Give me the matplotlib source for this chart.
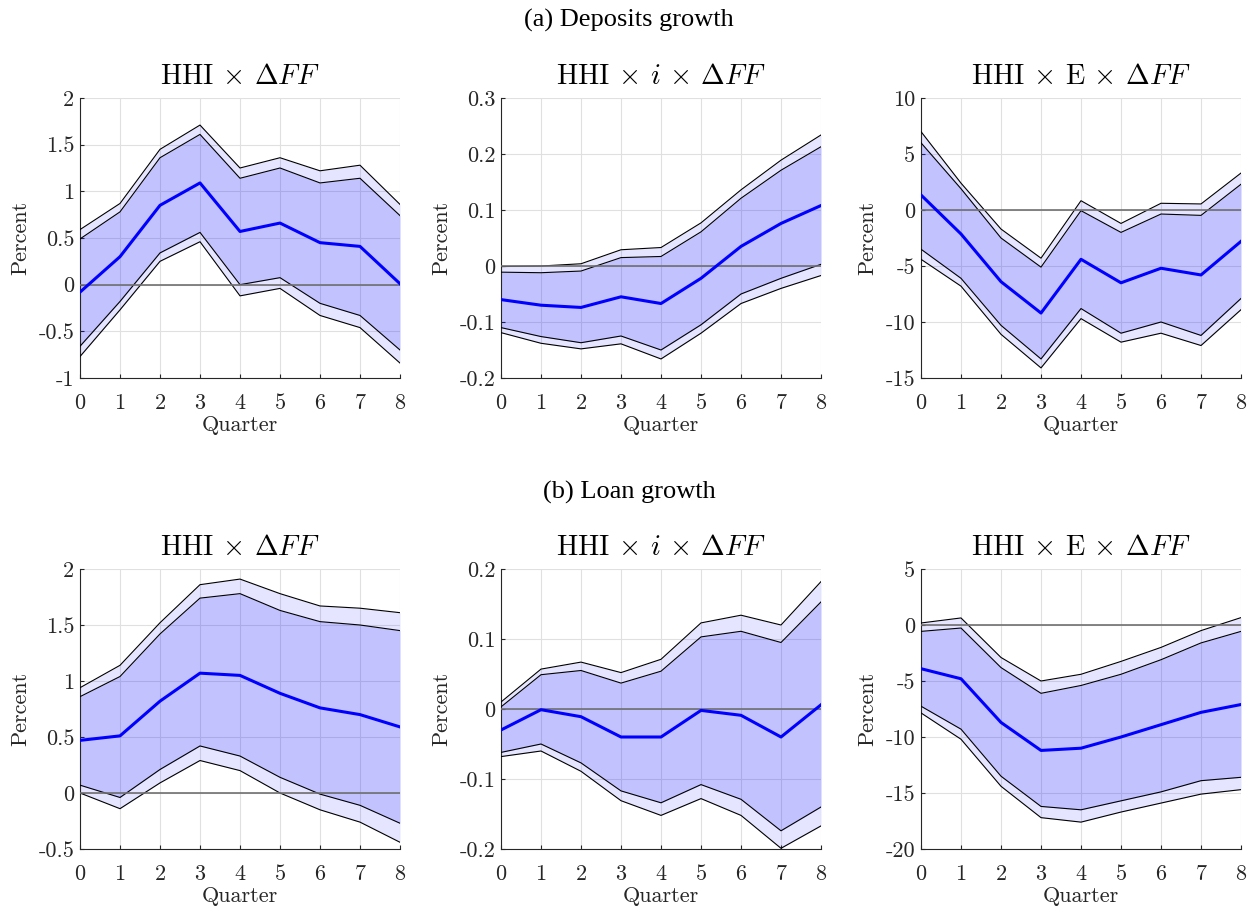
import matplotlib
matplotlib.use("Agg")
import matplotlib.pyplot as plt
import numpy as np

plt.rcParams['font.family'] = ['cmr10', 'DejaVu Serif']
plt.rcParams['mathtext.fontset'] = 'cm'
plt.rcParams['axes.unicode_minus'] = False

quarters = list(range(9))

# Deposits growth
dep1_mean = [-0.08, 0.30, 0.85, 1.09, 0.57, 0.66, 0.45, 0.41, 0.01]
dep1_in_hi = [0.49, 0.78, 1.36, 1.61, 1.14, 1.25, 1.09, 1.14, 0.74]
dep1_out_hi = [0.59, 0.87, 1.45, 1.71, 1.25, 1.36, 1.22, 1.28, 0.86]
dep1_in_lo = [-0.66, -0.18, 0.34, 0.56, 0.00, 0.075, -0.20, -0.33, -0.70]
dep1_out_lo = [-0.77, -0.27, 0.25, 0.46, -0.12, -0.04, -0.33, -0.46, -0.84]

dep2_mean = [-0.060, -0.070, -0.074, -0.055, -0.067, -0.022, 0.035, 0.076, 0.108]
dep2_in_hi = [-0.011, -0.012, -0.009, 0.015, 0.017, 0.061, 0.121, 0.171, 0.213]
dep2_out_hi = [-0.001, 0.000, 0.004, 0.029, 0.033, 0.077, 0.136, 0.189, 0.234]
dep2_in_lo = [-0.110, -0.126, -0.137, -0.125, -0.150, -0.105, -0.050, -0.022, 0.003]
dep2_out_lo = [-0.119, -0.138, -0.148, -0.139, -0.166, -0.120, -0.067, -0.040, -0.017]

dep3_mean = [1.34, -2.14, -6.4, -9.2, -4.4, -6.5, -5.2, -5.8, -2.8]
dep3_in_hi = [6.0, 1.9, -2.5, -5.1, -0.06, -2.0, -0.36, -0.48, 2.3]
dep3_out_hi = [7.0, 2.4, -1.7, -4.3, 0.83, -1.2, 0.6, 0.54, 3.3]
dep3_in_lo = [-3.5, -6.1, -10.3, -13.3, -8.8, -11.0, -10.0, -11.2, -7.9]
dep3_out_lo = [-4.4, -6.8, -11.1, -14.1, -9.7, -11.8, -11.0, -12.1, -8.9]

# Loan growth
loan1_mean = [0.47, 0.51, 0.82, 1.07, 1.05, 0.89, 0.76, 0.70, 0.59]
loan1_in_hi = [0.86, 1.04, 1.42, 1.74, 1.78, 1.63, 1.53, 1.50, 1.45]
loan1_out_hi = [0.94, 1.14, 1.52, 1.86, 1.91, 1.78, 1.67, 1.65, 1.61]
loan1_in_lo = [0.07, -0.04, 0.21, 0.42, 0.33, 0.14, -0.01, -0.11, -0.27]
loan1_out_lo = [0.00, -0.14, 0.09, 0.29, 0.20, 0.00, -0.15, -0.26, -0.44]

loan2_mean = [-0.030, -0.001, -0.011, -0.040, -0.040, -0.002, -0.009, -0.040, 0.006]
loan2_in_hi = [0.003, 0.049, 0.055, 0.037, 0.054, 0.103, 0.111, 0.095, 0.153]
loan2_out_hi = [0.010, 0.057, 0.067, 0.052, 0.071, 0.123, 0.134, 0.120, 0.182]
loan2_in_lo = [-0.062, -0.050, -0.077, -0.117, -0.134, -0.108, -0.129, -0.174, -0.140]
loan2_out_lo = [-0.068, -0.060, -0.089, -0.131, -0.152, -0.128, -0.152, -0.199, -0.167]

loan3_mean = [-3.9, -4.8, -8.7, -11.2, -11.0, -10.0, -8.9, -7.8, -7.1]
loan3_in_hi = [-0.57, -0.27, -3.8, -6.1, -5.4, -4.4, -3.1, -1.6, -0.57]
loan3_out_hi = [0.18, 0.63, -2.9, -5.0, -4.4, -3.25, -2.0, -0.5, 0.66]
loan3_in_lo = [-7.25, -9.3, -13.5, -16.2, -16.5, -15.7, -14.9, -13.9, -13.6]
loan3_out_lo = [-7.85, -10.2, -14.4, -17.2, -17.6, -16.7, -15.9, -15.1, -14.7]

titles = [r'HHI $\times$ $\Delta FF$', r'HHI $\times$ $i$ $\times$ $\Delta FF$',
          r'HHI $\times$ E $\times$ $\Delta FF$']
row_titles = ['(a) Deposits growth', '(b) Loan growth']

panels = [
    [(dep1_mean, dep1_in_hi, dep1_out_hi, dep1_in_lo, dep1_out_lo, (-1, 2), [-1, -0.5, 0, 0.5, 1, 1.5, 2]),
     (dep2_mean, dep2_in_hi, dep2_out_hi, dep2_in_lo, dep2_out_lo, (-0.2, 0.3), [-0.2, -0.1, 0, 0.1, 0.2, 0.3]),
     (dep3_mean, dep3_in_hi, dep3_out_hi, dep3_in_lo, dep3_out_lo, (-15, 10), [-15, -10, -5, 0, 5, 10])],
    [(loan1_mean, loan1_in_hi, loan1_out_hi, loan1_in_lo, loan1_out_lo, (-0.5, 2), [-0.5, 0, 0.5, 1, 1.5, 2]),
     (loan2_mean, loan2_in_hi, loan2_out_hi, loan2_in_lo, loan2_out_lo, (-0.2, 0.2), [-0.2, -0.1, 0, 0.1, 0.2]),
     (loan3_mean, loan3_in_hi, loan3_out_hi, loan3_in_lo, loan3_out_lo, (-20, 5), [-20, -15, -10, -5, 0, 5])],
]

W, H = 1258, 909
fig = plt.figure(figsize=(W / 100, H / 100), dpi=100)

lefts = [80, 501, 921]
width = 320
tops = [98, 569]
height = 280

def fmt(v):
    return '%g' % v

for r in range(2):
    for c in range(3):
        mean, in_hi, out_hi, in_lo, out_lo, ylim, yticks = panels[r][c]
        ax = fig.add_axes([lefts[c] / W, 1 - (tops[r] + height) / H, width / W, height / H])
        x = quarters
        ax.fill_between(x, out_lo, out_hi, color=(0, 0, 1), alpha=0.1, linewidth=0, zorder=2)
        ax.fill_between(x, in_lo, in_hi, color=(0, 0, 1), alpha=0.15, linewidth=0, zorder=2)
        for b in (out_hi, in_hi, in_lo, out_lo):
            ax.plot(x, b, color='black', linewidth=0.8, zorder=3)
        ax.axhline(0, color='#707070', linewidth=1.2, zorder=3)
        ax.plot(x, mean, color=(0, 0, 1), linewidth=2.2, zorder=4)
        ax.set_xlim(0, 8)
        ax.set_ylim(*ylim)
        ax.set_xticks(x)
        ax.set_yticks(yticks)
        ax.set_yticklabels([fmt(v) for v in yticks])
        ax.grid(True, color='#e0e0e0', linewidth=0.8, zorder=0)
        ax.set_axisbelow(True)
        for s in ('top', 'right'):
            ax.spines[s].set_visible(False)
        for s in ('left', 'bottom'):
            ax.spines[s].set_color('#262626')
            ax.spines[s].set_linewidth(0.8)
        ax.tick_params(direction='in', length=3, width=0.8, colors='#262626',
                       labelsize=16, labelcolor='#262626')
        ax.tick_params(axis='x', pad=11)
        ax.tick_params(axis='y', pad=4)
        ax.set_xlabel('Quarter', fontsize=16, color='#262626', labelpad=2)
        ax.set_ylabel('Percent', fontsize=16, color='#262626', labelpad=6)
        ax.set_title(titles[c], fontsize=20.5, color='black', pad=10)

fig.text(0.5, 1 - 20 / H, row_titles[0], ha='center', va='center', fontsize=19,
         family=['Liberation Serif', 'DejaVu Serif'])
fig.text(0.5, 1 - 492 / H, row_titles[1], ha='center', va='center', fontsize=19,
         family=['Liberation Serif', 'DejaVu Serif'])

fig.savefig('out.png', dpi=100)
